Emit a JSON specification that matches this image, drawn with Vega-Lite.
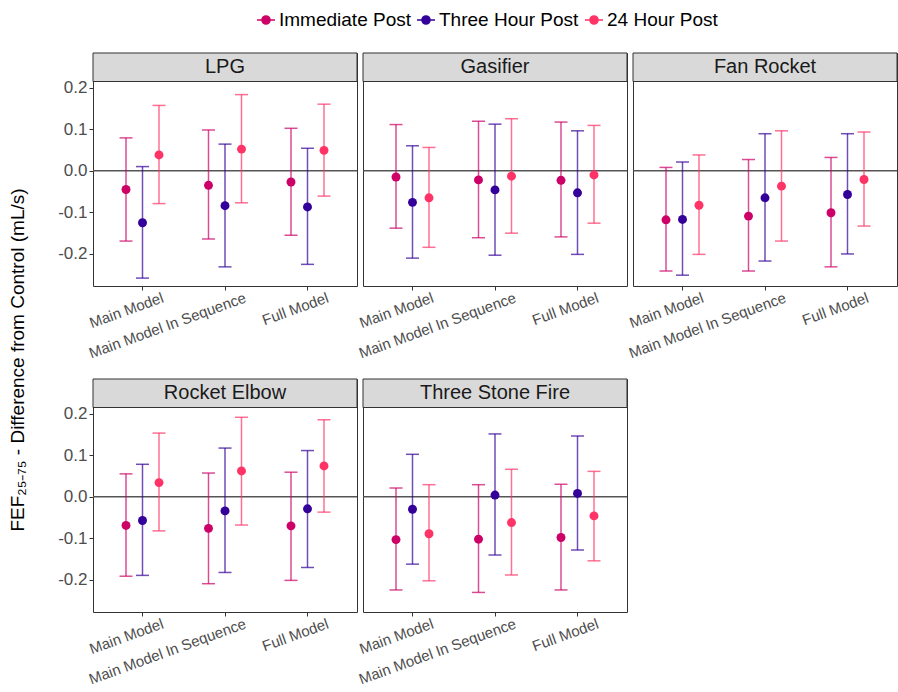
{
  "$schema": "https://vega.github.io/schema/vega-lite/v6.json",
  "padding": {"left": 5, "top": 10, "right": 0, "bottom": 0},
  "bounds": "flush",
  "spacing": 62,
  "resolve": {"scale": {"color": "shared"}, "legend": {"color": "shared"}},
  "hconcat": [
    {
      "width": 26,
      "height": 614,
      "view": {"stroke": null},
      "data": {"values": [{"label": "FEF₂₅₋₇₅ - Difference from Control (mL/s)"}]},
      "mark": {"type": "text", "angle": 270, "fontSize": 19, "color": "#000000", "align": "center", "baseline": "middle"},
      "encoding": {"text": {"field": "label", "type": "nominal"}}
    },
    {
      "data": {"values": [
        {"stove": "LPG", "model": "Main Model", "time": "Immediate Post", "estimate": -0.045, "lower": -0.169, "upper": 0.079},
        {"stove": "LPG", "model": "Main Model", "time": "Three Hour Post", "estimate": -0.125, "lower": -0.258, "upper": 0.010},
        {"stove": "LPG", "model": "Main Model", "time": "24 Hour Post", "estimate": 0.038, "lower": -0.079, "upper": 0.157},
        {"stove": "LPG", "model": "Main Model In Sequence", "time": "Immediate Post", "estimate": -0.035, "lower": -0.164, "upper": 0.098},
        {"stove": "LPG", "model": "Main Model In Sequence", "time": "Three Hour Post", "estimate": -0.084, "lower": -0.231, "upper": 0.064},
        {"stove": "LPG", "model": "Main Model In Sequence", "time": "24 Hour Post", "estimate": 0.052, "lower": -0.077, "upper": 0.183},
        {"stove": "LPG", "model": "Full Model", "time": "Immediate Post", "estimate": -0.027, "lower": -0.155, "upper": 0.102},
        {"stove": "LPG", "model": "Full Model", "time": "Three Hour Post", "estimate": -0.087, "lower": -0.225, "upper": 0.054},
        {"stove": "LPG", "model": "Full Model", "time": "24 Hour Post", "estimate": 0.049, "lower": -0.061, "upper": 0.160},
        {"stove": "Gasifier", "model": "Main Model", "time": "Immediate Post", "estimate": -0.015, "lower": -0.138, "upper": 0.111},
        {"stove": "Gasifier", "model": "Main Model", "time": "Three Hour Post", "estimate": -0.076, "lower": -0.210, "upper": 0.060},
        {"stove": "Gasifier", "model": "Main Model", "time": "24 Hour Post", "estimate": -0.065, "lower": -0.184, "upper": 0.056},
        {"stove": "Gasifier", "model": "Main Model In Sequence", "time": "Immediate Post", "estimate": -0.022, "lower": -0.161, "upper": 0.119},
        {"stove": "Gasifier", "model": "Main Model In Sequence", "time": "Three Hour Post", "estimate": -0.046, "lower": -0.203, "upper": 0.112},
        {"stove": "Gasifier", "model": "Main Model In Sequence", "time": "24 Hour Post", "estimate": -0.013, "lower": -0.150, "upper": 0.125},
        {"stove": "Gasifier", "model": "Full Model", "time": "Immediate Post", "estimate": -0.023, "lower": -0.159, "upper": 0.117},
        {"stove": "Gasifier", "model": "Full Model", "time": "Three Hour Post", "estimate": -0.053, "lower": -0.201, "upper": 0.096},
        {"stove": "Gasifier", "model": "Full Model", "time": "24 Hour Post", "estimate": -0.010, "lower": -0.126, "upper": 0.109},
        {"stove": "Fan Rocket", "model": "Main Model", "time": "Immediate Post", "estimate": -0.118, "lower": -0.241, "upper": 0.008},
        {"stove": "Fan Rocket", "model": "Main Model", "time": "Three Hour Post", "estimate": -0.117, "lower": -0.251, "upper": 0.021},
        {"stove": "Fan Rocket", "model": "Main Model", "time": "24 Hour Post", "estimate": -0.083, "lower": -0.201, "upper": 0.038},
        {"stove": "Fan Rocket", "model": "Main Model In Sequence", "time": "Immediate Post", "estimate": -0.109, "lower": -0.241, "upper": 0.027},
        {"stove": "Fan Rocket", "model": "Main Model In Sequence", "time": "Three Hour Post", "estimate": -0.065, "lower": -0.217, "upper": 0.089},
        {"stove": "Fan Rocket", "model": "Main Model In Sequence", "time": "24 Hour Post", "estimate": -0.037, "lower": -0.169, "upper": 0.096},
        {"stove": "Fan Rocket", "model": "Full Model", "time": "Immediate Post", "estimate": -0.101, "lower": -0.231, "upper": 0.032},
        {"stove": "Fan Rocket", "model": "Full Model", "time": "Three Hour Post", "estimate": -0.057, "lower": -0.200, "upper": 0.089},
        {"stove": "Fan Rocket", "model": "Full Model", "time": "24 Hour Post", "estimate": -0.021, "lower": -0.133, "upper": 0.093},
        {"stove": "Rocket Elbow", "model": "Main Model", "time": "Immediate Post", "estimate": -0.069, "lower": -0.191, "upper": 0.055},
        {"stove": "Rocket Elbow", "model": "Main Model", "time": "Three Hour Post", "estimate": -0.057, "lower": -0.189, "upper": 0.078},
        {"stove": "Rocket Elbow", "model": "Main Model", "time": "24 Hour Post", "estimate": 0.034, "lower": -0.082, "upper": 0.153},
        {"stove": "Rocket Elbow", "model": "Main Model In Sequence", "time": "Immediate Post", "estimate": -0.076, "lower": -0.209, "upper": 0.057},
        {"stove": "Rocket Elbow", "model": "Main Model In Sequence", "time": "Three Hour Post", "estimate": -0.034, "lower": -0.182, "upper": 0.117},
        {"stove": "Rocket Elbow", "model": "Main Model In Sequence", "time": "24 Hour Post", "estimate": 0.062, "lower": -0.068, "upper": 0.191},
        {"stove": "Rocket Elbow", "model": "Full Model", "time": "Immediate Post", "estimate": -0.070, "lower": -0.201, "upper": 0.059},
        {"stove": "Rocket Elbow", "model": "Full Model", "time": "Three Hour Post", "estimate": -0.029, "lower": -0.170, "upper": 0.111},
        {"stove": "Rocket Elbow", "model": "Full Model", "time": "24 Hour Post", "estimate": 0.074, "lower": -0.037, "upper": 0.185},
        {"stove": "Three Stone Fire", "model": "Main Model", "time": "Immediate Post", "estimate": -0.103, "lower": -0.224, "upper": 0.021},
        {"stove": "Three Stone Fire", "model": "Main Model", "time": "Three Hour Post", "estimate": -0.030, "lower": -0.162, "upper": 0.102},
        {"stove": "Three Stone Fire", "model": "Main Model", "time": "24 Hour Post", "estimate": -0.089, "lower": -0.202, "upper": 0.029},
        {"stove": "Three Stone Fire", "model": "Main Model In Sequence", "time": "Immediate Post", "estimate": -0.102, "lower": -0.230, "upper": 0.029},
        {"stove": "Three Stone Fire", "model": "Main Model In Sequence", "time": "Three Hour Post", "estimate": 0.004, "lower": -0.140, "upper": 0.151},
        {"stove": "Three Stone Fire", "model": "Main Model In Sequence", "time": "24 Hour Post", "estimate": -0.062, "lower": -0.188, "upper": 0.066},
        {"stove": "Three Stone Fire", "model": "Full Model", "time": "Immediate Post", "estimate": -0.098, "lower": -0.224, "upper": 0.030},
        {"stove": "Three Stone Fire", "model": "Full Model", "time": "Three Hour Post", "estimate": 0.008, "lower": -0.128, "upper": 0.146},
        {"stove": "Three Stone Fire", "model": "Full Model", "time": "24 Hour Post", "estimate": -0.046, "lower": -0.154, "upper": 0.061}
      ]},
      "bounds": "flush",
      "columns": 3,
      "spacing": {"row": 93, "column": 6},
      "resolve": {"scale": {"color": "shared"}, "legend": {"color": "shared"}},
      "concat": [
        {
          "width": 264, "height": 233,
          "transform": [{"filter": "datum.stove == 'LPG'"}],
          "encoding": {"y": {"type": "quantitative", "scale": {"domain": [-0.277, 0.283], "nice": false, "zero": false},
            "axis": {"title": null, "values": [-0.25, -0.2, -0.15, -0.1, -0.05, 0, 0.05, 0.1, 0.15, 0.2],
              "labelExpr": "round(datum.value*20) % 2 != 0 ? '' : replace(format(datum.value, '.1f'), '−', '-')",
              "tickOpacity": {"condition": {"test": "round(datum.value*20) % 2 != 0", "value": 0}, "value": 1},
              "gridColor": {"condition": {"test": "round(datum.value*20) % 2 != 0", "value": "#F3F3F3"}, "value": "#E6E6E6"},
              "gridWidth": {"condition": {"test": "round(datum.value*20) % 2 != 0", "value": 0.7}, "value": 1.1}}}},
          "layer": [
            {"transform": [{"aggregate": [{"op": "count", "as": "n"}], "groupby": ["stove"]}],
             "layer": [
               {"mark": {"type": "rect", "fill": "#D9D9D9", "stroke": "#333333", "strokeWidth": 1}, "encoding": {"y": {"datum": 0.283}, "y2": {"datum": 0.2145}}},
               {"mark": {"type": "text", "fontSize": 20, "color": "#1A1A1A", "baseline": "middle", "align": "center"}, "encoding": {"y": {"datum": 0.249}, "text": {"field": "stove", "type": "nominal"}}},
               {"mark": {"type": "rule", "color": "#555555", "strokeWidth": 1.3}, "encoding": {"y": {"datum": 0}}}
             ]},
            {"encoding": {
               "x": {"field": "model", "type": "nominal", "scale": {"type": "band", "domain": ["Main Model", "Main Model In Sequence", "Full Model"], "paddingInner": 0, "paddingOuter": 0.1},
                 "axis": {"title": null, "labelAngle": -20, "labelAlign": "right", "labelBaseline": "top", "grid": false, "labelOffset": 18, "labelPadding": 0}},
               "xOffset": {"field": "time", "type": "nominal", "scale": {"type": "band", "domain": ["Immediate Post", "Three Hour Post", "24 Hour Post"], "paddingInner": 0, "paddingOuter": 1}},
               "color": {"field": "time", "type": "nominal", "scale": {"domain": ["Immediate Post", "Three Hour Post", "24 Hour Post"], "range": ["#CC0066", "#330099", "#FF3366"]},
                 "legend": {"title": null, "orient": "none", "direction": "horizontal", "legendX": 251, "legendY": -43,
                   "symbolType": "M-1,0L1,0M0.45,0A0.45,0.45,0,1,1,-0.45,0A0.45,0.45,0,1,1,0.45,0Z",
                   "symbolSize": 324, "symbolStrokeWidth": 1.5, "symbolOpacity": 1, "labelFontSize": 19, "labelColor": "#000000", "labelOffset": 3, "columnPadding": 3,
                   "encode": {"symbols": {"update": {"stroke": {"scale": "color", "field": "value"}, "fill": {"scale": "color", "field": "value"}, "strokeWidth": {"value": 1.5}, "opacity": {"value": 1}}}}}}},
             "layer": [
               {"mark": {"type": "rule", "strokeWidth": 1.5, "opacity": 0.7}, "encoding": {"y": {"field": "lower", "type": "quantitative"}, "y2": {"field": "upper"}}},
               {"mark": {"type": "tick", "size": 13, "thickness": 1.5, "opacity": 0.7, "orient": "horizontal"}, "encoding": {"y": {"field": "lower", "type": "quantitative"}}},
               {"mark": {"type": "tick", "size": 13, "thickness": 1.5, "opacity": 0.7, "orient": "horizontal"}, "encoding": {"y": {"field": "upper", "type": "quantitative"}}},
               {"mark": {"type": "point", "filled": true, "size": 80, "opacity": 1}, "encoding": {"y": {"field": "estimate", "type": "quantitative"}}}
             ]}
          ]
        },
        {
          "width": 264, "height": 233,
          "transform": [{"filter": "datum.stove == 'Gasifier'"}],
          "encoding": {"y": {"type": "quantitative", "scale": {"domain": [-0.277, 0.283], "nice": false, "zero": false},
            "axis": {"title": null, "values": [-0.25, -0.2, -0.15, -0.1, -0.05, 0, 0.05, 0.1, 0.15, 0.2], "labels": false, "ticks": false,
              "gridColor": {"condition": {"test": "round(datum.value*20) % 2 != 0", "value": "#F3F3F3"}, "value": "#E6E6E6"},
              "gridWidth": {"condition": {"test": "round(datum.value*20) % 2 != 0", "value": 0.7}, "value": 1.1}}}},
          "layer": [
            {"transform": [{"aggregate": [{"op": "count", "as": "n"}], "groupby": ["stove"]}],
             "layer": [
               {"mark": {"type": "rect", "fill": "#D9D9D9", "stroke": "#333333", "strokeWidth": 1}, "encoding": {"y": {"datum": 0.283}, "y2": {"datum": 0.2145}}},
               {"mark": {"type": "text", "fontSize": 20, "color": "#1A1A1A", "baseline": "middle", "align": "center"}, "encoding": {"y": {"datum": 0.249}, "text": {"field": "stove", "type": "nominal"}}},
               {"mark": {"type": "rule", "color": "#555555", "strokeWidth": 1.3}, "encoding": {"y": {"datum": 0}}}
             ]},
            {"encoding": {
               "x": {"field": "model", "type": "nominal", "scale": {"type": "band", "domain": ["Main Model", "Main Model In Sequence", "Full Model"], "paddingInner": 0, "paddingOuter": 0.1},
                 "axis": {"title": null, "labelAngle": -20, "labelAlign": "right", "labelBaseline": "top", "grid": false, "labelOffset": 18, "labelPadding": 0}},
               "xOffset": {"field": "time", "type": "nominal", "scale": {"type": "band", "domain": ["Immediate Post", "Three Hour Post", "24 Hour Post"], "paddingInner": 0, "paddingOuter": 1}},
               "color": {"field": "time", "type": "nominal", "scale": {"domain": ["Immediate Post", "Three Hour Post", "24 Hour Post"], "range": ["#CC0066", "#330099", "#FF3366"]},
                 "legend": {"title": null, "orient": "none", "direction": "horizontal", "legendX": 251, "legendY": -43,
                   "symbolType": "M-1,0L1,0M0.45,0A0.45,0.45,0,1,1,-0.45,0A0.45,0.45,0,1,1,0.45,0Z",
                   "symbolSize": 324, "symbolStrokeWidth": 1.5, "symbolOpacity": 1, "labelFontSize": 19, "labelColor": "#000000", "labelOffset": 3, "columnPadding": 3,
                   "encode": {"symbols": {"update": {"stroke": {"scale": "color", "field": "value"}, "fill": {"scale": "color", "field": "value"}, "strokeWidth": {"value": 1.5}, "opacity": {"value": 1}}}}}}},
             "layer": [
               {"mark": {"type": "rule", "strokeWidth": 1.5, "opacity": 0.7}, "encoding": {"y": {"field": "lower", "type": "quantitative"}, "y2": {"field": "upper"}}},
               {"mark": {"type": "tick", "size": 13, "thickness": 1.5, "opacity": 0.7, "orient": "horizontal"}, "encoding": {"y": {"field": "lower", "type": "quantitative"}}},
               {"mark": {"type": "tick", "size": 13, "thickness": 1.5, "opacity": 0.7, "orient": "horizontal"}, "encoding": {"y": {"field": "upper", "type": "quantitative"}}},
               {"mark": {"type": "point", "filled": true, "size": 80, "opacity": 1}, "encoding": {"y": {"field": "estimate", "type": "quantitative"}}}
             ]}
          ]
        },
        {
          "width": 264, "height": 233,
          "transform": [{"filter": "datum.stove == 'Fan Rocket'"}],
          "encoding": {"y": {"type": "quantitative", "scale": {"domain": [-0.277, 0.283], "nice": false, "zero": false},
            "axis": {"title": null, "values": [-0.25, -0.2, -0.15, -0.1, -0.05, 0, 0.05, 0.1, 0.15, 0.2], "labels": false, "ticks": false,
              "gridColor": {"condition": {"test": "round(datum.value*20) % 2 != 0", "value": "#F3F3F3"}, "value": "#E6E6E6"},
              "gridWidth": {"condition": {"test": "round(datum.value*20) % 2 != 0", "value": 0.7}, "value": 1.1}}}},
          "layer": [
            {"transform": [{"aggregate": [{"op": "count", "as": "n"}], "groupby": ["stove"]}],
             "layer": [
               {"mark": {"type": "rect", "fill": "#D9D9D9", "stroke": "#333333", "strokeWidth": 1}, "encoding": {"y": {"datum": 0.283}, "y2": {"datum": 0.2145}}},
               {"mark": {"type": "text", "fontSize": 20, "color": "#1A1A1A", "baseline": "middle", "align": "center"}, "encoding": {"y": {"datum": 0.249}, "text": {"field": "stove", "type": "nominal"}}},
               {"mark": {"type": "rule", "color": "#555555", "strokeWidth": 1.3}, "encoding": {"y": {"datum": 0}}}
             ]},
            {"encoding": {
               "x": {"field": "model", "type": "nominal", "scale": {"type": "band", "domain": ["Main Model", "Main Model In Sequence", "Full Model"], "paddingInner": 0, "paddingOuter": 0.1},
                 "axis": {"title": null, "labelAngle": -20, "labelAlign": "right", "labelBaseline": "top", "grid": false, "labelOffset": 18, "labelPadding": 0}},
               "xOffset": {"field": "time", "type": "nominal", "scale": {"type": "band", "domain": ["Immediate Post", "Three Hour Post", "24 Hour Post"], "paddingInner": 0, "paddingOuter": 1}},
               "color": {"field": "time", "type": "nominal", "scale": {"domain": ["Immediate Post", "Three Hour Post", "24 Hour Post"], "range": ["#CC0066", "#330099", "#FF3366"]},
                 "legend": {"title": null, "orient": "none", "direction": "horizontal", "legendX": 251, "legendY": -43,
                   "symbolType": "M-1,0L1,0M0.45,0A0.45,0.45,0,1,1,-0.45,0A0.45,0.45,0,1,1,0.45,0Z",
                   "symbolSize": 324, "symbolStrokeWidth": 1.5, "symbolOpacity": 1, "labelFontSize": 19, "labelColor": "#000000", "labelOffset": 3, "columnPadding": 3,
                   "encode": {"symbols": {"update": {"stroke": {"scale": "color", "field": "value"}, "fill": {"scale": "color", "field": "value"}, "strokeWidth": {"value": 1.5}, "opacity": {"value": 1}}}}}}},
             "layer": [
               {"mark": {"type": "rule", "strokeWidth": 1.5, "opacity": 0.7}, "encoding": {"y": {"field": "lower", "type": "quantitative"}, "y2": {"field": "upper"}}},
               {"mark": {"type": "tick", "size": 13, "thickness": 1.5, "opacity": 0.7, "orient": "horizontal"}, "encoding": {"y": {"field": "lower", "type": "quantitative"}}},
               {"mark": {"type": "tick", "size": 13, "thickness": 1.5, "opacity": 0.7, "orient": "horizontal"}, "encoding": {"y": {"field": "upper", "type": "quantitative"}}},
               {"mark": {"type": "point", "filled": true, "size": 80, "opacity": 1}, "encoding": {"y": {"field": "estimate", "type": "quantitative"}}}
             ]}
          ]
        },
        {
          "width": 264, "height": 233,
          "transform": [{"filter": "datum.stove == 'Rocket Elbow'"}],
          "encoding": {"y": {"type": "quantitative", "scale": {"domain": [-0.277, 0.283], "nice": false, "zero": false},
            "axis": {"title": null, "values": [-0.25, -0.2, -0.15, -0.1, -0.05, 0, 0.05, 0.1, 0.15, 0.2],
              "labelExpr": "round(datum.value*20) % 2 != 0 ? '' : replace(format(datum.value, '.1f'), '−', '-')",
              "tickOpacity": {"condition": {"test": "round(datum.value*20) % 2 != 0", "value": 0}, "value": 1},
              "gridColor": {"condition": {"test": "round(datum.value*20) % 2 != 0", "value": "#F3F3F3"}, "value": "#E6E6E6"},
              "gridWidth": {"condition": {"test": "round(datum.value*20) % 2 != 0", "value": 0.7}, "value": 1.1}}}},
          "layer": [
            {"transform": [{"aggregate": [{"op": "count", "as": "n"}], "groupby": ["stove"]}],
             "layer": [
               {"mark": {"type": "rect", "fill": "#D9D9D9", "stroke": "#333333", "strokeWidth": 1}, "encoding": {"y": {"datum": 0.283}, "y2": {"datum": 0.2145}}},
               {"mark": {"type": "text", "fontSize": 20, "color": "#1A1A1A", "baseline": "middle", "align": "center"}, "encoding": {"y": {"datum": 0.249}, "text": {"field": "stove", "type": "nominal"}}},
               {"mark": {"type": "rule", "color": "#555555", "strokeWidth": 1.3}, "encoding": {"y": {"datum": 0}}}
             ]},
            {"encoding": {
               "x": {"field": "model", "type": "nominal", "scale": {"type": "band", "domain": ["Main Model", "Main Model In Sequence", "Full Model"], "paddingInner": 0, "paddingOuter": 0.1},
                 "axis": {"title": null, "labelAngle": -20, "labelAlign": "right", "labelBaseline": "top", "grid": false, "labelOffset": 18, "labelPadding": 0}},
               "xOffset": {"field": "time", "type": "nominal", "scale": {"type": "band", "domain": ["Immediate Post", "Three Hour Post", "24 Hour Post"], "paddingInner": 0, "paddingOuter": 1}},
               "color": {"field": "time", "type": "nominal", "scale": {"domain": ["Immediate Post", "Three Hour Post", "24 Hour Post"], "range": ["#CC0066", "#330099", "#FF3366"]},
                 "legend": {"title": null, "orient": "none", "direction": "horizontal", "legendX": 251, "legendY": -43,
                   "symbolType": "M-1,0L1,0M0.45,0A0.45,0.45,0,1,1,-0.45,0A0.45,0.45,0,1,1,0.45,0Z",
                   "symbolSize": 324, "symbolStrokeWidth": 1.5, "symbolOpacity": 1, "labelFontSize": 19, "labelColor": "#000000", "labelOffset": 3, "columnPadding": 3,
                   "encode": {"symbols": {"update": {"stroke": {"scale": "color", "field": "value"}, "fill": {"scale": "color", "field": "value"}, "strokeWidth": {"value": 1.5}, "opacity": {"value": 1}}}}}}},
             "layer": [
               {"mark": {"type": "rule", "strokeWidth": 1.5, "opacity": 0.7}, "encoding": {"y": {"field": "lower", "type": "quantitative"}, "y2": {"field": "upper"}}},
               {"mark": {"type": "tick", "size": 13, "thickness": 1.5, "opacity": 0.7, "orient": "horizontal"}, "encoding": {"y": {"field": "lower", "type": "quantitative"}}},
               {"mark": {"type": "tick", "size": 13, "thickness": 1.5, "opacity": 0.7, "orient": "horizontal"}, "encoding": {"y": {"field": "upper", "type": "quantitative"}}},
               {"mark": {"type": "point", "filled": true, "size": 80, "opacity": 1}, "encoding": {"y": {"field": "estimate", "type": "quantitative"}}}
             ]}
          ]
        },
        {
          "width": 264, "height": 233,
          "transform": [{"filter": "datum.stove == 'Three Stone Fire'"}],
          "encoding": {"y": {"type": "quantitative", "scale": {"domain": [-0.277, 0.283], "nice": false, "zero": false},
            "axis": {"title": null, "values": [-0.25, -0.2, -0.15, -0.1, -0.05, 0, 0.05, 0.1, 0.15, 0.2], "labels": false, "ticks": false,
              "gridColor": {"condition": {"test": "round(datum.value*20) % 2 != 0", "value": "#F3F3F3"}, "value": "#E6E6E6"},
              "gridWidth": {"condition": {"test": "round(datum.value*20) % 2 != 0", "value": 0.7}, "value": 1.1}}}},
          "layer": [
            {"transform": [{"aggregate": [{"op": "count", "as": "n"}], "groupby": ["stove"]}],
             "layer": [
               {"mark": {"type": "rect", "fill": "#D9D9D9", "stroke": "#333333", "strokeWidth": 1}, "encoding": {"y": {"datum": 0.283}, "y2": {"datum": 0.2145}}},
               {"mark": {"type": "text", "fontSize": 20, "color": "#1A1A1A", "baseline": "middle", "align": "center"}, "encoding": {"y": {"datum": 0.249}, "text": {"field": "stove", "type": "nominal"}}},
               {"mark": {"type": "rule", "color": "#555555", "strokeWidth": 1.3}, "encoding": {"y": {"datum": 0}}}
             ]},
            {"encoding": {
               "x": {"field": "model", "type": "nominal", "scale": {"type": "band", "domain": ["Main Model", "Main Model In Sequence", "Full Model"], "paddingInner": 0, "paddingOuter": 0.1},
                 "axis": {"title": null, "labelAngle": -20, "labelAlign": "right", "labelBaseline": "top", "grid": false, "labelOffset": 18, "labelPadding": 0}},
               "xOffset": {"field": "time", "type": "nominal", "scale": {"type": "band", "domain": ["Immediate Post", "Three Hour Post", "24 Hour Post"], "paddingInner": 0, "paddingOuter": 1}},
               "color": {"field": "time", "type": "nominal", "scale": {"domain": ["Immediate Post", "Three Hour Post", "24 Hour Post"], "range": ["#CC0066", "#330099", "#FF3366"]},
                 "legend": {"title": null, "orient": "none", "direction": "horizontal", "legendX": 251, "legendY": -43,
                   "symbolType": "M-1,0L1,0M0.45,0A0.45,0.45,0,1,1,-0.45,0A0.45,0.45,0,1,1,0.45,0Z",
                   "symbolSize": 324, "symbolStrokeWidth": 1.5, "symbolOpacity": 1, "labelFontSize": 19, "labelColor": "#000000", "labelOffset": 3, "columnPadding": 3,
                   "encode": {"symbols": {"update": {"stroke": {"scale": "color", "field": "value"}, "fill": {"scale": "color", "field": "value"}, "strokeWidth": {"value": 1.5}, "opacity": {"value": 1}}}}}}},
             "layer": [
               {"mark": {"type": "rule", "strokeWidth": 1.5, "opacity": 0.7}, "encoding": {"y": {"field": "lower", "type": "quantitative"}, "y2": {"field": "upper"}}},
               {"mark": {"type": "tick", "size": 13, "thickness": 1.5, "opacity": 0.7, "orient": "horizontal"}, "encoding": {"y": {"field": "lower", "type": "quantitative"}}},
               {"mark": {"type": "tick", "size": 13, "thickness": 1.5, "opacity": 0.7, "orient": "horizontal"}, "encoding": {"y": {"field": "upper", "type": "quantitative"}}},
               {"mark": {"type": "point", "filled": true, "size": 80, "opacity": 1}, "encoding": {"y": {"field": "estimate", "type": "quantitative"}}}
             ]}
          ]
        }
      ]
    }
  ],
  "config": {
    "font": "Liberation Sans",
    "view": {"stroke": "#333333", "strokeWidth": 1},
    "axis": {
      "labelFontSize": 15, "labelColor": "#4D4D4D", "tickColor": "#333333", "tickSize": 4,
      "domain": false, "titleFontSize": 17, "titleFontWeight": "normal", "titleColor": "#000000", "labelPadding": 2
    },
    "axisY": {"labelFontSize": 17},
    "axisX": {"grid": false}
  }
}
